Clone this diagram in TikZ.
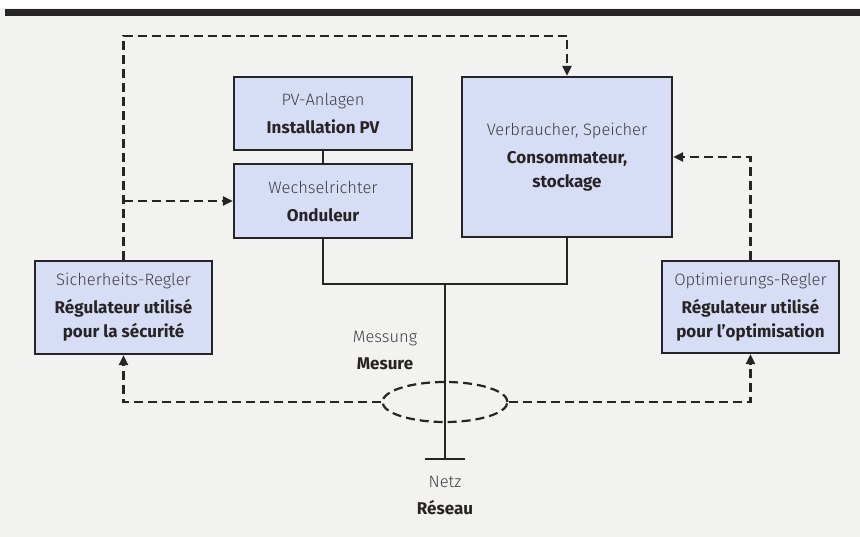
\documentclass[tikz,border=0pt]{standalone}
\usepackage{fontspec}
\setmainfont{Fira Sans}
\newfontfamily\lightf{Fira Sans Light}
\usetikzlibrary{arrows.meta,shapes.geometric}
\definecolor{boxfill}{RGB}{216,221,246}
\definecolor{bg}{RGB}{242,242,240}
\definecolor{ink}{RGB}{38,36,36}
\definecolor{degray}{RGB}{62,62,68}
\tikzset{
 blk/.style={draw=ink, line width=2.2pt, fill=boxfill, inner sep=0pt, align=center, font=\fontsize{16}{24}\selectfont},
 dsh/.style={draw=ink, line width=2.2pt, dash pattern=on 9pt off 5pt},
 arr/.style={-{Triangle[length=10pt,width=9pt]}},
 wire/.style={draw=ink, line width=2.2pt},
 lbl/.style={align=center, inner sep=0pt, font=\fontsize{16}{24}\selectfont},
}
\newcommand{\de}[1]{{\lightf\fontsize{16.5}{24}\selectfont\color{degray}#1}}
\newcommand{\fr}[1]{{\bfseries\fontsize{17}{24}\selectfont\color{ink}#1}}
\begin{document}
\begin{tikzpicture}[x=1pt,y=-1pt]
\useasboundingbox (0,0) rectangle (860,537);
\fill[bg] (0,0) rectangle (860,537);
\fill[white] (0,0) rectangle (860,8);
\fill[ink] (5,9) rectangle (860,16);

\node[blk, minimum width=178pt, minimum height=73pt] (pv) at (323,113.5) {\de{PV-Anlagen}\\[4pt]\fr{Installation PV}};
\node[blk, minimum width=178pt, minimum height=74pt] (wr) at (323,201) {\de{Wechselrichter}\\[4pt]\fr{Onduleur}};
\node[blk, minimum width=210pt, minimum height=160pt] (vb) at (567,157) {\de{Verbraucher, Speicher}\\[4pt]\fr{Consommateur,}\\\fr{stockage}};
\node[blk, minimum width=177pt, minimum height=93pt] (sr) at (123.5,307.5) {\de{Sicherheits-Regler}\\[4pt]\fr{Régulateur utilisé}\\\fr{pour la sécurité}};
\node[blk, minimum width=177pt, minimum height=92pt] (or) at (750.5,307) {\de{Optimierungs-Regler}\\[4pt]\fr{Régulateur utilisé}\\\fr{pour l\char39 optimisation}};

\node[dsh, ellipse, minimum width=125pt, minimum height=40pt, inner sep=0pt] (ms) at (445,402) {};
\node[lbl] (mslbl) at (385,350) {\de{Messung}\\[3pt]\fr{Mesure}};
\node[lbl] (netz) at (445,495) {\de{Netz}\\[3pt]\fr{Réseau}};

\coordinate (j) at (445,284);
\coordinate (gnd) at (445,459);

\draw[wire] (pv.south) -- (wr.north);
\draw[wire] (wr.south) |- (j) -| (vb.south);
\draw[wire] (j) -- (gnd);
\draw[wire] ([xshift=-20pt]gnd) -- ([xshift=20pt]gnd);

\draw[dsh,arr] (ms.west) -| (sr.south);
\draw[dsh,arr] (ms.east) -| (or.south);
\draw[dsh,arr] (sr.north) |- ([yshift=40pt]vb.north) -- (vb.north);
\draw[dsh,arr] (sr.north |- wr.west) -- (wr.west);
\draw[dsh,arr] (or.north) |- (vb.east);
\end{tikzpicture}
\end{document}
